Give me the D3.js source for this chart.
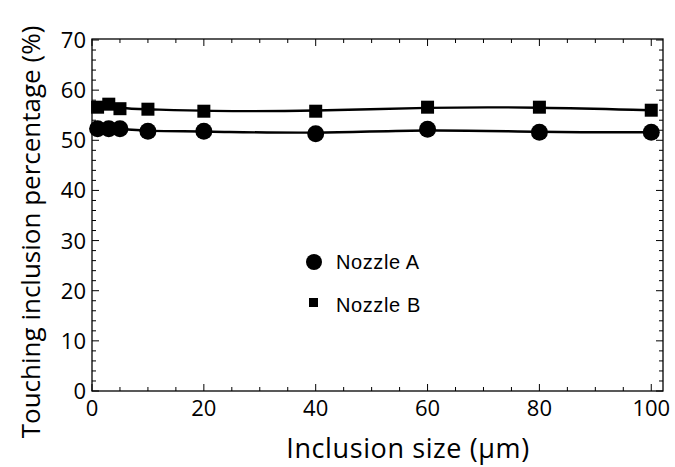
<!DOCTYPE html>
<html>
<head>
<meta charset="utf-8">
<script src="https://cdn.jsdelivr.net/npm/d3@7"></script>
<style>
  body { margin: 0; background: #fff; }
  svg { display: block; }
</style>
</head>
<body>
<div id="chart"></div>
<script>
// data
const sizes = [1, 3, 5, 10, 20, 40, 60, 80, 100];
const nozzleA = [52.3, 52.3, 52.3, 51.8, 51.8, 51.3, 52.2, 51.6, 51.6];
const nozzleB = [56.6, 57.2, 56.3, 56.2, 55.8, 55.8, 56.6, 56.6, 56.0];
const xTicks = [0, 20, 40, 60, 80, 100];
const yTicks = [0, 10, 20, 30, 40, 50, 60, 70];
const seriesNames = ["Nozzle A", "Nozzle B"];

const width = 675, height = 467;
const mLeft = 92, mRight = 663, mTop = 39, mBottom = 391;

const svg = d3.select("#chart").append("svg")
    .attr("width", width)
    .attr("height", height);

const x = d3.scaleLinear().domain([0, 102.1]).range([mLeft, mRight]);
const y = d3.scaleLinear().domain([0, 70.2]).range([mBottom, mTop]);

// frame
svg.append("rect")
    .attr("x", mLeft).attr("y", mTop)
    .attr("width", mRight - mLeft).attr("height", mBottom - mTop)
    .attr("fill", "none").attr("stroke", "#000").attr("stroke-width", 1.3);

// inward ticks on all four sides
const xMinor = d3.range(0, 101, 5);
const yMinor = d3.range(0, 71, 2);
const tickG = svg.append("g").attr("stroke", "#000").attr("stroke-width", 1);
xMinor.forEach(v => {
    let len = v % 20 === 0 ? 7 : 4;
    tickG.append("line").attr("x1", x(v)).attr("x2", x(v)).attr("y1", mBottom).attr("y2", mBottom - len);
    tickG.append("line").attr("x1", x(v)).attr("x2", x(v)).attr("y1", mTop).attr("y2", mTop + len);
});
yMinor.forEach(v => {
    let len = v % 10 === 0 ? 7 : 4;
    tickG.append("line").attr("y1", y(v)).attr("y2", y(v)).attr("x1", mLeft).attr("x2", mLeft + len);
    tickG.append("line").attr("y1", y(v)).attr("y2", y(v)).attr("x1", mRight).attr("x2", mRight - len);
});

// tick labels
svg.append("g").selectAll("text").data(xTicks).join("text")
    .attr("x", d => x(d)).attr("y", mBottom + 25)
    .attr("text-anchor", "middle")
    .style("font-family", "'Open Sans', sans-serif")
    .style("font-size", "22px")
    .text(d => d);

svg.append("g").selectAll("text").data(yTicks).join("text")
    .attr("x", mLeft - 6).attr("y", d => y(d) + 8)
    .attr("text-anchor", "end")
    .style("font-family", "'Open Sans', sans-serif")
    .style("font-size", "22px")
    .text(d => d);

// axis titles
svg.append("text")
    .attr("x", 408).attr("y", 458)
    .attr("text-anchor", "middle")
    .style("font-family", "'Open Sans', sans-serif")
    .style("font-size", "27px")
    .style("letter-spacing", "0.6px")
    .text("Inclusion size (\u03bcm)");

svg.append("text")
    .attr("transform", "translate(40, 232) rotate(-90)")
    .attr("text-anchor", "middle")
    .style("font-family", "'Open Sans', sans-serif")
    .style("font-size", "26px")
    .text("Touching inclusion percentage (%)");

// lines
const line = d3.line().x(d => x(d[0])).y(d => y(d[1])).curve(d3.curveBasis);
[nozzleA, nozzleB].forEach(vals => {
    svg.append("path")
        .attr("d", line(sizes.map((s, i) => [s, vals[i]])))
        .attr("fill", "none").attr("stroke", "#000").attr("stroke-width", 2.4);
});

// markers
svg.append("g").selectAll("circle").data(sizes).join("circle")
    .attr("cx", d => x(d))
    .attr("cy", (d, i) => y(nozzleA[i]))
    .attr("r", 8.5)
    .attr("fill", "#000");

svg.append("g").selectAll("rect").data(sizes).join("rect")
    .attr("x", d => x(d) - 6.5)
    .attr("y", (d, i) => y(nozzleB[i]) - 6.5)
    .attr("width", 13).attr("height", 13)
    .attr("fill", "#000");

// legend
const leg = svg.append("g");
leg.append("circle").attr("cx", 314).attr("cy", 262).attr("r", 8).attr("fill", "#000");
leg.append("rect").attr("x", 309).attr("y", 298).attr("width", 9).attr("height", 9).attr("fill", "#000");
leg.selectAll("text").data(seriesNames).join("text")
    .attr("x", 336).attr("y", (d, i) => 269 + i * 43)
    .style("font-family", "'Liberation Sans', Arial, sans-serif")
    .style("font-size", "20px")
    .style("letter-spacing", "0.6px")
    .text(d => d);
</script>
</body>
</html>
